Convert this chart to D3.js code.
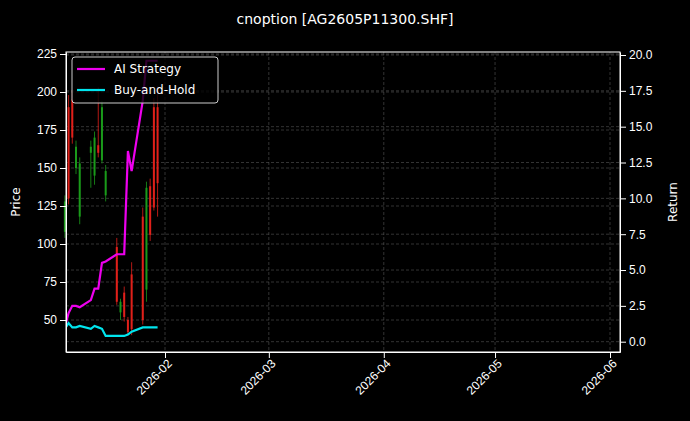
<!DOCTYPE html>
<html><head><meta charset="utf-8">
<script src="https://cdn.jsdelivr.net/npm/d3@7"></script>
<style>body{margin:0;background:#000}svg{font-family:"DejaVu Sans",sans-serif}</style>
</head><body><svg id="c" width="690" height="421"></svg>
<script>
const dates = ["2026-01-05","2026-01-06","2026-01-07","2026-01-08","2026-01-09","2026-01-12","2026-01-13","2026-01-14","2026-01-15","2026-01-16","2026-01-19","2026-01-20","2026-01-21","2026-01-22","2026-01-23","2026-01-26","2026-01-27","2026-01-28","2026-01-29","2026-01-30"];
const opens  = [108,190,195,150,118,160,145,165,155,132,98,55,68,50,80,118,70,138,190,190];
const highs  = [132,198,201,168,157,168,174,203,194,152,104,64,72,52,88,124,141,143,196,204];
const lows   = [104,126,166,146,113,137,139,157,153,128,60,50,49,40,40,47,62,102,122,118];
const closes = [128,130,170,164,153,164,170,160,190,148,62,62,52,42,44,50,137,106,124,140];
const aiRet  = [1.0,2.0,2.5,2.5,2.4,2.9,3.7,3.7,5.5,5.6,6.1,6.1,6.1,13.3,11.9,16.8,19.6,19.6,19.6,19.6];
const bhRet  = [0.9,1.3,1.0,1.0,1.1,0.9,1.1,1.0,0.9,0.4,0.4,0.4,0.4,0.5,0.7,1.0,1.0,1.0,1.0,1.0];
const priceTicks = [50,75,100,125,150,175,200,225];
const retTicks = [0,2.5,5,7.5,10,12.5,15,17.5,20];
const dateTicks = ["2026-02-01","2026-03-01","2026-04-01","2026-05-01","2026-06-01"];

const parse = d3.timeParse("%Y-%m-%d");
const svg = d3.select("#c");
const m = {l:66, r:620, t:52, b:352};
// tick pixel anchors
const x = d3.scaleTime().domain([parse("2026-02-01"), parse("2026-06-01")]).range([165, 610]);
x.domain([x.invert(m.l), x.invert(m.r)]).range([m.l, m.r]);
const y = d3.scaleLinear().domain([50, 225]).range([320, 54]);
y.domain([y.invert(m.b), y.invert(m.t)]).range([m.b, m.t]);
const y2 = d3.scaleLinear().domain([0, 20]).range([341.7, 55]);
y2.domain([y2.invert(m.b), y2.invert(m.t)]).range([m.b, m.t]);

svg.append("rect").attr("width",690).attr("height",421).attr("fill","#000");
const g = svg.append("g");
const gridAttr = s => s.attr("stroke","#555").attr("stroke-dasharray","3,2").attr("stroke-width",0.6);
g.selectAll(".gy").data(priceTicks).join("line").attr("x1",m.l).attr("x2",m.r)
  .attr("y1",d=>y(d)).attr("y2",d=>y(d)).call(gridAttr);
g.selectAll(".gr").data(retTicks).join("line").attr("x1",m.l).attr("x2",m.r)
  .attr("y1",d=>y2(d)).attr("y2",d=>y2(d)).call(gridAttr);
g.selectAll(".gx").data(dateTicks).join("line").attr("y1",m.t).attr("y2",m.b)
  .attr("x1",d=>x(parse(d))).attr("x2",d=>x(parse(d))).call(gridAttr);

// candles
const idx = d3.range(dates.length);
g.selectAll(".wick").data(idx).join("line")
  .attr("x1",i=>x(parse(dates[i]))).attr("x2",i=>x(parse(dates[i])))
  .attr("y1",i=>y(highs[i])).attr("y2",i=>y(lows[i]))
  .attr("stroke",i=>closes[i]>=opens[i]?"#1a9a1a":"#e0201a").attr("stroke-width",0.8);
g.selectAll(".body").data(idx).join("rect")
  .attr("x",i=>x(parse(dates[i]))-1).attr("width",2)
  .attr("y",i=>y(Math.max(opens[i],closes[i]))).attr("height",i=>Math.max(1,Math.abs(y(opens[i])-y(closes[i]))))
  .attr("fill",i=>closes[i]>=opens[i]?"#1a9a1a":"#e0201a");

svg.append("clipPath").attr("id","cp").append("rect").attr("x",m.l).attr("y",m.t).attr("width",m.r-m.l).attr("height",m.b-m.t);
const line = arr => d3.line().x((d,i)=>x(parse(dates[i]))).y(d=>y2(d))(arr);
g.append("path").attr("d",line(bhRet)).attr("fill","none").attr("stroke","#00e5ee").attr("stroke-width",2.2).attr("clip-path","url(#cp)");
g.append("path").attr("d",line(aiRet)).attr("fill","none").attr("stroke","#ee00ee").attr("stroke-width",2.2).attr("clip-path","url(#cp)");

// axes
const styleAx = s => { s.selectAll("path,line").attr("stroke","#fff"); s.selectAll("text").attr("fill","#fff").attr("font-size",12); };
svg.append("g").attr("transform",`translate(${m.l},0)`).call(d3.axisLeft(y).tickValues(priceTicks).tickSizeOuter(0)).call(styleAx);
svg.append("g").attr("transform",`translate(${m.r},0)`).call(d3.axisRight(y2).tickValues(retTicks).tickFormat(d3.format(".1f")).tickSizeOuter(0)).call(styleAx);
const xa = svg.append("g").attr("transform",`translate(0,${m.b})`).call(d3.axisBottom(x).tickValues(dateTicks.map(parse)).tickFormat(d3.timeFormat("%Y-%m")).tickSizeOuter(0)).call(styleAx);
xa.selectAll("text").attr("text-anchor","end").attr("dx","-0.3em").attr("dy","0.4em").attr("transform","rotate(-45)");
svg.append("rect").attr("x",m.l).attr("y",m.t).attr("width",m.r-m.l).attr("height",m.b-m.t).attr("fill","none").attr("stroke","#fff");

svg.append("text").attr("x",345).attr("y",24).attr("text-anchor","middle").attr("fill","#fff").attr("font-size",14).text("cnoption [AG2605P11300.SHF]");
svg.append("text").attr("transform","translate(20,202) rotate(-90)").attr("text-anchor","middle").attr("fill","#fff").attr("font-size",12).text("Price");
svg.append("text").attr("transform","translate(677,202) rotate(-90)").attr("text-anchor","middle").attr("fill","#fff").attr("font-size",12).text("Return");

// legend
const lg = svg.append("g").attr("transform","translate(72,57)");
lg.append("rect").attr("width",146).attr("height",46).attr("rx",3).attr("fill","#000").attr("fill-opacity",0.8).attr("stroke","#ccc");
[["AI Strategy","#ee00ee"],["Buy-and-Hold","#00e5ee"]].forEach(([t,c],i)=>{
  lg.append("line").attr("x1",5).attr("x2",33).attr("y1",12+i*21).attr("y2",12+i*21).attr("stroke",c).attr("stroke-width",2.2);
  lg.append("text").attr("x",42).attr("y",16+i*21).attr("fill","#fff").attr("font-size",12).text(t);
});
</script></body></html>
